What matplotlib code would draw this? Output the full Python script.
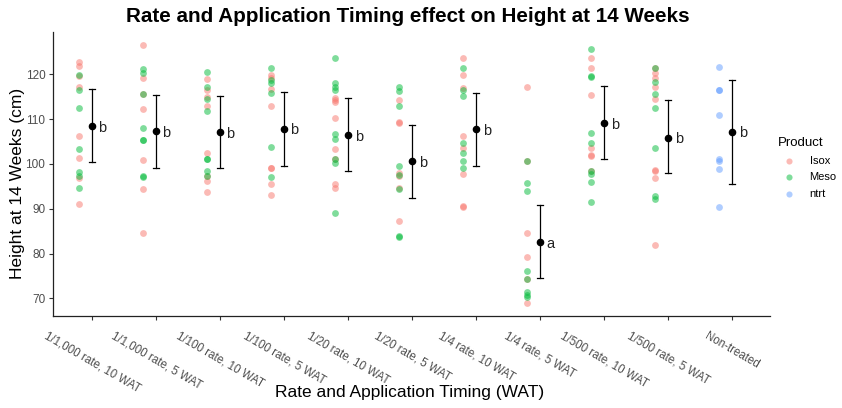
import numpy as np
import matplotlib.pyplot as plt

plt.rcParams['font.family'] = ['Liberation Sans', 'DejaVu Sans']

groups = ['1/1,000 rate, 10 WAT', '1/1,000 rate, 5 WAT', '1/100 rate, 10 WAT',
          '1/100 rate, 5 WAT', '1/20 rate, 10 WAT', '1/20 rate, 5 WAT',
          '1/4 rate, 10 WAT', '1/4 rate, 5 WAT', '1/500 rate, 10 WAT',
          '1/500 rate, 5 WAT', 'Non-treated']

isox = [
    [122.8, 121.9, 119.7, 117.2, 106.2, 101.3, 96.8, 91.1],
    [126.6, 119.1, 115.7, 112.2, 100.9, 94.3, 84.5],
    [119.0, 116.4, 115.0, 113.0, 102.4, 97.2, 96.3, 93.7],
    [119.8, 119.3, 116.7, 113.0, 99.1, 99.1, 95.5, 93.1],
    [114.8, 114.3, 113.9, 110.3, 103.3, 101.2, 95.5, 94.6],
    [114.2, 109.4, 109.1, 97.9, 97.3, 94.6, 87.3],
    [123.6, 119.8, 116.9, 106.2, 103.5, 97.7, 90.7, 90.4],
    [117.2, 100.7, 84.5, 79.3, 74.2, 68.9],
    [123.6, 121.5, 115.3, 103.5, 102.0, 101.8, 98.4],
    [121.5, 120.2, 119.3, 117.2, 114.4, 98.6, 98.4, 96.9, 82.0],
    [],
]
meso = [
    [119.9, 116.4, 112.4, 103.3, 98.1, 97.2, 94.6],
    [121.3, 120.2, 115.7, 108.1, 105.3, 105.3, 97.3, 97.0],
    [120.6, 117.2, 114.4, 111.9, 101.2, 101.2, 98.4, 97.2],
    [121.5, 118.7, 118.0, 115.8, 103.7, 97.0],
    [123.6, 118.0, 117.2, 116.5, 106.6, 105.6, 101.0, 100.3, 89.1],
    [117.2, 116.3, 113.0, 99.5, 97.6, 94.3, 83.8, 83.6],
    [121.5, 116.4, 115.2, 104.6, 102.5, 100.7, 99.0],
    [100.7, 95.7, 94.0, 76.0, 74.2, 71.5, 70.7, 70.2],
    [125.6, 119.7, 119.5, 106.8, 104.6, 98.4, 97.7, 96.0, 91.6],
    [121.5, 118.4, 115.6, 112.4, 103.6, 92.8, 92.2],
    [],
]
ntrt = [[] for _ in range(10)] + [[121.6, 116.6, 116.4, 110.9, 101.2, 100.7, 98.8, 90.3]]

means = [108.5, 107.4, 107.05, 107.9, 106.5, 100.65, 107.7, 82.5, 109.1, 105.9, 107.2]
err_hi = [116.7, 115.5, 115.2, 116.0, 114.8, 108.6, 115.8, 90.8, 117.3, 114.2, 118.7]
err_lo = [100.4, 99.2, 99.0, 99.6, 98.5, 92.4, 99.5, 74.5, 101.0, 97.9, 95.5]
letters = ['b', 'b', 'b', 'b', 'b', 'b', 'b', 'a', 'b', 'b', 'b']

fig = plt.figure(figsize=(8.42, 4.08), dpi=100)
ax = fig.add_axes([0.063, 0.2255, 0.8515, 0.6965])

cols = {'Isox': '#F8766D', 'Meso': '#00BA38', 'ntrt': '#619CFF'}
for name, data in [('Isox', isox), ('Meso', meso), ('ntrt', ntrt)]:
    xs, ys = [], []
    for i, vals in enumerate(data):
        xs += [i - 0.21] * len(vals)
        ys += vals
    ax.scatter(xs, ys, s=24, color=cols[name], alpha=0.5, linewidths=0, label=name)

x = np.arange(len(groups))
for i in range(len(groups)):
    ax.plot([x[i], x[i]], [err_lo[i], err_hi[i]], color='black', lw=0.9)
    ax.plot([x[i] - 0.045, x[i] + 0.045], [err_hi[i], err_hi[i]], color='black', lw=0.9)
    ax.plot([x[i] - 0.045, x[i] + 0.045], [err_lo[i], err_lo[i]], color='black', lw=0.9)
    ax.text(x[i] + 0.1, means[i] - 0.4, letters[i], fontsize=10.5, color='#222222', va='center', ha='left')
ax.scatter(x, means, s=20, color='black', zorder=5)

ax.set_xlim(-0.61, 10.59)
ax.set_ylim(66.05, 129.5)
ax.set_xticks(x)
ax.set_xticklabels(groups, rotation=-30, ha='center', va='top', fontsize=8.3, color='#4D4D4D')
ax.set_yticks([70, 80, 90, 100, 110, 120])
ax.tick_params(axis='y', labelsize=8.5, labelcolor='#4D4D4D', length=3, color='#333333', pad=2.5)
ax.tick_params(axis='x', length=3, color='#333333', pad=7)
for s in ['top', 'right']:
    ax.spines[s].set_visible(False)
for s in ['left', 'bottom']:
    ax.spines[s].set_color('#222222')
    ax.spines[s].set_linewidth(0.9)

fig.text(408 / 842, 1 - 17 / 408, 'Rate and Application Timing effect on Height at 14 Weeks',
         fontsize=14.9, fontweight='bold', ha='center', va='center')
fig.text(18 / 842, 1 - 183 / 408, 'Height at 14 Weeks (cm)', fontsize=12.5,
         rotation=90, ha='center', va='center')
fig.text(410 / 842, 1 - 393 / 408, 'Rate and Application Timing (WAT)', fontsize=12.5,
         ha='center', va='center')

leg = fig.legend(title='Product', loc='upper left', bbox_to_anchor=(0.918, 0.675),
                 frameon=False, fontsize=8, title_fontsize=9.5, handletextpad=0.9,
                 borderaxespad=0, labelspacing=0.6, markerscale=0.9)
leg._legend_box.align = 'left'

fig.savefig('out.png', dpi=100)
